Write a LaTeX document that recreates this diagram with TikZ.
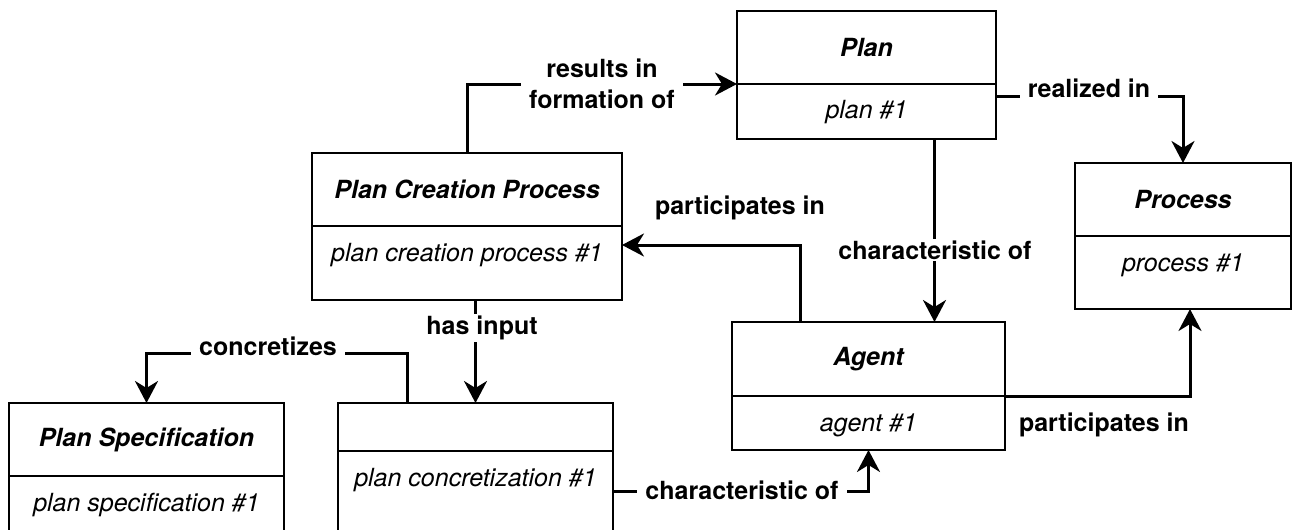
\documentclass[tikz,border=0pt]{standalone}
\usepackage{fontspec}
\setmainfont{TeX Gyre Heros}
\usetikzlibrary{positioning,arrows.meta}
\newcommand\diagfont{\fontsize{12.5pt}{15.5pt}\selectfont}

\begin{document}
\begin{tikzpicture}[x=0.5pt,y=-0.5pt,
                    head node/.style={draw,line width=1pt,outer sep=0pt,inner sep=0pt,
                    minimum height=36.5pt,font=\diagfont\bfseries\itshape},
                    body node/.style={draw,line width=1pt,outer sep=0pt,inner sep=0pt,
                    text height=17.5pt,text depth=#1,font=\diagfont\itshape},
                    link/.style={line width=1.5pt,-{Stealth[length=11pt,width=11.5pt,inset=3.5pt]}},
                    link label/.style={fill=white,inner xsep=4pt,inner ysep=1pt,align=center,
                    font=\diagfont\bfseries}
                   ]
   \path[use as bounding box,fill=white] (0,0) rectangle (1292,530);
   \clip (0,0) rectangle (1292,530);
   % class boxes: title part and instance part
   \node[head node,minimum width=129.5pt,anchor=north west] (plan) at (737,11) {Plan};
   \node[body node=10pt,minimum width=129.5pt,below=0pt of plan] (plan-b) {plan \#1};
   \node[head node,minimum width=108pt,anchor=north west] (process) at (1075,163) {Process};
   \node[body node=19pt,minimum width=108pt,below=0pt of process] (process-b) {process \#1};
   \node[head node,minimum width=155pt,anchor=north west] (pcp) at (312,153) {Plan Creation Process};
   \node[body node=19.5pt,minimum width=155pt,below=0pt of pcp] (pcp-b) {plan creation process \#1};
   \node[head node,minimum width=136.5pt,minimum height=37pt,anchor=north west] (agent) at (732,322) {Agent};
   \node[body node=9.5pt,minimum width=136.5pt,below=0pt of agent] (agent-b) {agent \#1};
   \node[head node,minimum width=137.5pt,anchor=north west] (spec) at (9,403) {Plan Specification};
   \node[body node=10.5pt,minimum width=137.5pt,below=0pt of spec] (spec-b) {plan specification \#1};
   \node[head node,minimum width=137.5pt,minimum height=24pt,anchor=north west] (conc) at (338,403) {};
   \node[body node=23pt,minimum width=137.5pt,below=0pt of conc] (conc-b) {plan concretization \#1};
   % relations
   \draw[link] (pcp.north) |- (plan.south west);
   \draw[link] ([yshift=-6pt]plan-b.north east) -| (process.north);
   \draw[link] ([xshift=34pt]plan-b.south) -- ([xshift=34pt]plan-b.south |- agent.north);
   \draw[link] ([xshift=-34pt]agent.north) |- ([yshift=9pt]pcp-b.east);
   \draw[link] (agent.south east) -| ([xshift=3.5pt]process-b.south);
   \draw[link] (pcp-b.south -| conc.north) -- (conc.north);
   \draw[link] ([xshift=-34pt]conc.north) -- ++(0,-50) -| (spec.north);
   \draw[link] (conc-b.east) -| (agent-b.south);
   % relation names
   \node[link label] (l-form) at (602,84) {results in\\formation of};
   \node[link label] (l-real) at (1089,88) {realized in};
   \node[link label] (l-char1) at (935,250) {characteristic of};
   \node[link label] (l-part1) at (740,208) {participates in};
   \node[link label] (l-part2) at (1104,425) {participates in};
   \node[link label] (l-input) at (482,328) {has input};
   \node[link label] (l-concr) at (268,346) {concretizes};
   \node[link label] (l-char2) at (742,490) {characteristic of};
\end{tikzpicture}
\end{document}
